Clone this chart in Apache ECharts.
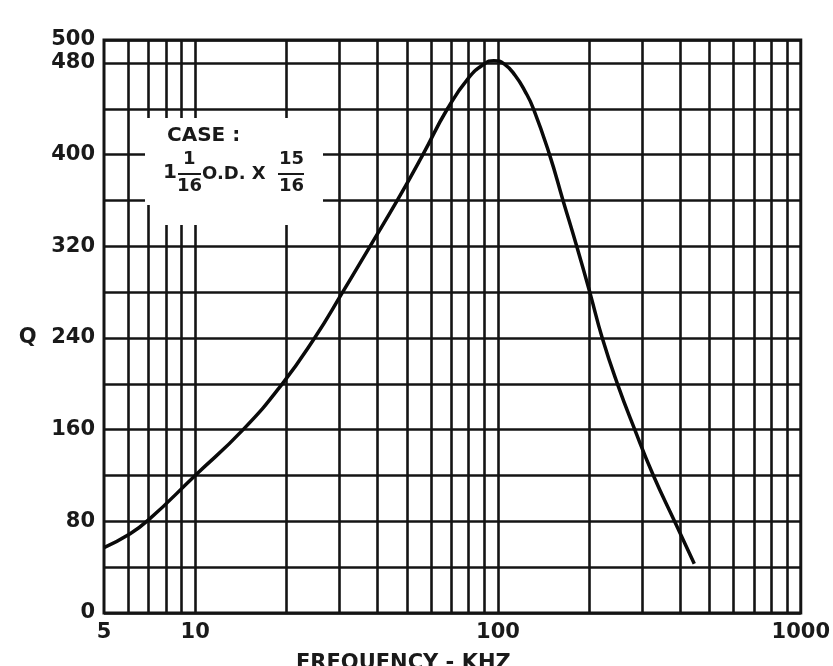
<!DOCTYPE html>
<html><head><meta charset="utf-8">
<script src="https://cdn.jsdelivr.net/npm/echarts@6/dist/echarts.min.js"></script>
<style>html,body{margin:0;padding:0;background:#fff}#c{width:833px;height:666px}</style>
</head><body><div id="c"></div>
<script>
// Frequency (kHz) and Q
const freqKHz = [5, 6, 7, 10, 14.4, 19.4, 24.8, 30.7, 37.8, 46.5, 56.5, 68.1, 80, 90, 97, 105, 114, 123, 131, 148, 164, 182, 201, 221, 248, 283, 326, 383, 445];
const qValues = [57, 68, 81, 120, 160, 200, 240, 280, 320, 360, 400, 440, 467, 479, 482, 479, 469, 455, 440, 400, 360, 320, 280, 240, 200, 160, 120, 80, 43];
// log-paper vertical rulings
const xGridLines = [6, 7, 8, 9, 10, 20, 30, 40, 50, 60, 70, 80, 90, 100, 200, 300, 400, 500, 600, 700, 800, 900];
const xTickLabels = [5, 10, 100, 1000];
const yTickLabels = [0, 80, 160, 240, 320, 400, 480, 500];
const xTitle = 'FREQUENCY - KHZ';
const yTitle = 'Q';
const caseLine1 = 'CASE :';

const chart = echarts.init(document.getElementById('c'), null, {renderer: 'canvas'});
const INK = '#141414';
const FONT = 'DejaVu Sans';

const option = {
  animation: false,
  backgroundColor: '#ffffff',
  grid: {left: 104, right: 26, top: 40, bottom: 53, show: true, borderColor: INK, borderWidth: 3, backgroundColor: 'transparent'},
  xAxis: {
    type: 'log', logBase: 10, min: 5, max: 1000,
    axisLine: {show: false}, axisTick: {show: false}, splitLine: {show: false}, minorSplitLine: {show: false},
    axisLabel: {
      color: '#1a1a1a', fontFamily: FONT, fontWeight: 'bold', fontSize: 21, margin: 9,
      formatter: function (v) { const r = Math.round(v); return xTickLabels.indexOf(r) >= 0 ? String(r) : ''; }
    }
  },
  yAxis: {
    type: 'value', min: 0, max: 500, interval: 40,
    axisLine: {show: false}, axisTick: {show: false},
    splitLine: {show: true, lineStyle: {color: INK, width: 2.6}},
    axisLabel: {
      color: '#1a1a1a', fontFamily: FONT, fontWeight: 'bold', fontSize: 21, margin: 9,
      formatter: function (v) {
        if (yTickLabels.indexOf(v) < 0) return '';
        return v === 240 ? yTitle + '  ' + v : String(v);
      }
    }
  },
  series: [
    {
      type: 'line', data: [], silent: true,
      markLine: {
        silent: true, symbol: ['none', 'none'], label: {show: false}, animation: false,
        lineStyle: {color: INK, width: 2.6, type: 'solid'},
        emphasis: {disabled: true},
        data: xGridLines.map(v => ({xAxis: v}))
      }
    },
    {
      type: 'line', z: 10,
      data: freqKHz.map((f, i) => [f, qValues[i]]),
      smooth: 0.5, showSymbol: false,
      lineStyle: {color: '#0a0a0a', width: 3.5}
    }
  ],
  graphic: [
    {type: 'rect', z: 100, shape: {x: 145, y: 118, width: 178, height: 87}, style: {fill: '#fff'}},
    {type: 'rect', z: 100, shape: {x: 160, y: 200, width: 163, height: 25}, style: {fill: '#fff'}},
    {type: 'text', z: 101, left: 167, top: 126, style: {text: caseLine1, font: 'bold 20px "DejaVu Sans"', fill: '#1a1a1a'}},
    {type: 'text', z: 101, left: 163, top: 163, style: {text: '1', font: 'bold 20px "DejaVu Sans"', fill: '#1a1a1a'}},
    {type: 'text', z: 101, left: 183, top: 150, style: {text: '1', font: 'bold 18px "DejaVu Sans"', fill: '#1a1a1a'}},
    {type: 'line', z: 101, shape: {x1: 178, y1: 174, x2: 201, y2: 174}, style: {stroke: '#1a1a1a', lineWidth: 2}},
    {type: 'text', z: 101, left: 177, top: 177, style: {text: '16', font: 'bold 18px "DejaVu Sans"', fill: '#1a1a1a'}},
    {type: 'text', z: 101, left: 202, top: 165, style: {text: 'O.D. X', font: 'bold 18px "DejaVu Sans"', fill: '#1a1a1a'}},
    {type: 'text', z: 101, left: 279, top: 150, style: {text: '15', font: 'bold 18px "DejaVu Sans"', fill: '#1a1a1a'}},
    {type: 'line', z: 101, shape: {x1: 278, y1: 174, x2: 304, y2: 174}, style: {stroke: '#1a1a1a', lineWidth: 2}},
    {type: 'text', z: 101, left: 279, top: 177, style: {text: '16', font: 'bold 18px "DejaVu Sans"', fill: '#1a1a1a'}},
    {type: 'text', z: 101, left: 296, top: 653, style: {text: xTitle, font: 'bold 21px "DejaVu Sans"', fill: '#1a1a1a'}}
  ]
};
chart.setOption(option);
</script>
</body></html>
